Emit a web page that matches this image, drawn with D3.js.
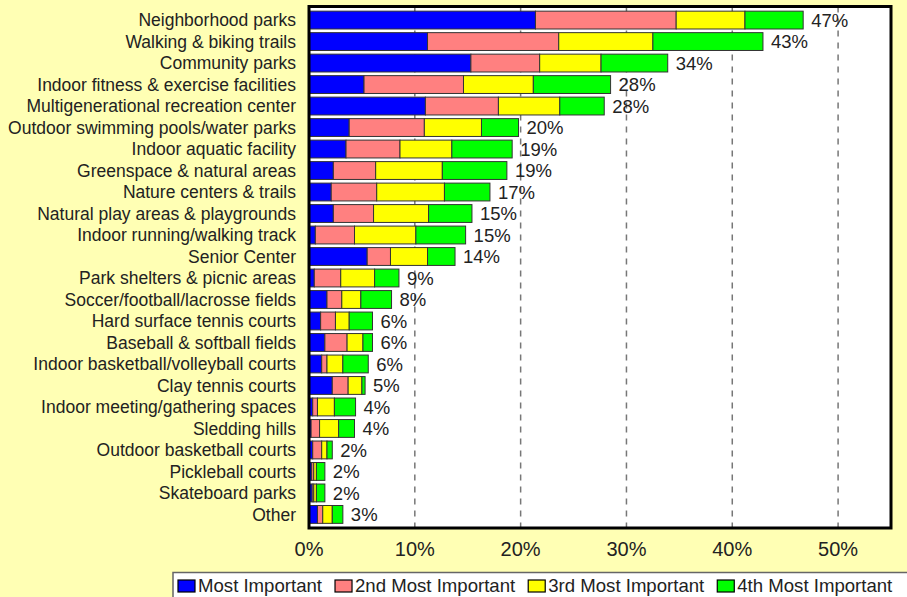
<!DOCTYPE html>
<html>
<head>
<meta charset="utf-8">
<script src="https://cdn.jsdelivr.net/npm/d3@7"></script>
<style>
  html, body { margin: 0; padding: 0; background: #FFFFB4; }
  svg { display: block; font-family: "Liberation Sans", Arial, sans-serif; }
</style>
</head>
<body>
<div class="chart"></div>
<script>
const width = 907;
const height = 597;

// categories, top to bottom
const categories = [
  "Neighborhood parks",
  "Walking & biking trails",
  "Community parks",
  "Indoor fitness & exercise facilities",
  "Multigenerational recreation center",
  "Outdoor swimming pools/water parks",
  "Indoor aquatic facility",
  "Greenspace & natural areas",
  "Nature centers & trails",
  "Natural play areas & playgrounds",
  "Indoor running/walking track",
  "Senior Center",
  "Park shelters & picnic areas",
  "Soccer/football/lacrosse fields",
  "Hard surface tennis courts",
  "Baseball & softball fields",
  "Indoor basketball/volleyball courts",
  "Clay tennis courts",
  "Indoor meeting/gathering spaces",
  "Sledding hills",
  "Outdoor basketball courts",
  "Pickleball courts",
  "Skateboard parks",
  "Other"
];

const seriesNames = ["Most Important", "2nd Most Important", "3rd Most Important", "4th Most Important"];

// percentages
const most   = [21.4, 11.2, 15.3, 5.2, 11.0, 3.8, 3.5, 2.3, 2.1, 2.3, 0.6, 5.5, 0.5, 1.7, 1.1, 1.5, 1.2, 2.2, 0.35, 0.2, 0.35, 0.25, 0.3, 0.8];
const second = [13.3, 12.4, 6.5, 9.4, 6.9, 7.1, 5.1, 4.0, 4.3, 3.8, 3.7, 2.2, 2.5, 1.4, 1.4, 2.1, 0.5, 1.5, 0.45, 0.8, 0.85, 0.2, 0.15, 0.5];
const third  = [6.5, 8.9, 5.8, 6.6, 5.8, 5.4, 4.9, 6.3, 6.4, 5.2, 5.8, 3.5, 3.2, 1.8, 1.3, 1.5, 1.5, 1.3, 1.6, 1.8, 0.5, 0.25, 0.25, 0.9];
const fourth = [5.5, 10.4, 6.3, 7.3, 4.2, 3.5, 5.7, 6.1, 4.3, 4.1, 4.7, 2.6, 2.3, 2.9, 2.2, 0.9, 2.4, 0.3, 2.0, 1.5, 0.5, 0.8, 0.8, 1.0];

const totalLabels = ["47%", "43%", "34%", "28%", "28%", "20%", "19%", "19%", "17%", "15%", "15%", "14%",
  "9%", "8%", "6%", "6%", "6%", "5%", "4%", "4%", "2%", "2%", "2%", "3%"];

const xTicks = [0, 10, 20, 30, 40, 50];
const colors = ["#0000FF", "#FF8080", "#FFFF00", "#00FF00"];

const rows = categories.map((c, i) => ({
  cat: c, s0: most[i], s1: second[i], s2: third[i], s3: fourth[i], label: totalLabels[i]
}));
const keys = ["s0", "s1", "s2", "s3"];
const stacked = d3.stack().keys(keys)(rows);

const plot = { left: 309, right: 891, top: 6.5, bottom: 528 };

const x = d3.scaleLinear().domain([0, 55]).range([plot.left, plot.right]);
const y = d3.scaleBand().domain(categories).range([plot.top + 1, plot.bottom - 1]).padding(0.17);

const svg = d3.select(".chart").append("svg")
  .attr("width", width)
  .attr("height", height);

svg.append("rect").attr("width", width).attr("height", height).attr("fill", "#FFFFB4");

// plot area
svg.append("rect")
  .attr("x", plot.left).attr("y", plot.top)
  .attr("width", plot.right - plot.left).attr("height", plot.bottom - plot.top)
  .attr("fill", "#fff");

// dashed grid
svg.append("g")
  .selectAll("line")
  .data(xTicks.filter(d => d > 0))
  .enter().append("line")
  .attr("x1", d => x(d)).attr("x2", d => x(d))
  .attr("y1", plot.top).attr("y2", plot.bottom)
  .attr("stroke", "#777")
  .attr("stroke-width", 1.5)
  .attr("stroke-dasharray", "6,6");

// bars
svg.append("g")
  .selectAll("g")
  .data(stacked)
  .enter().append("g")
  .attr("fill", (d, i) => colors[i])
  .selectAll("rect")
  .data(d => d)
  .enter().append("rect")
  .attr("x", d => x(d[0]))
  .attr("y", d => y(d.data.cat))
  .attr("width", d => Math.max(0, x(d[1]) - x(d[0])))
  .attr("height", y.bandwidth())
  .attr("stroke", "#333")
  .attr("stroke-width", 1);

// totals
const last = stacked[stacked.length - 1];
svg.append("g")
  .selectAll("text")
  .data(last)
  .enter().append("text")
  .attr("x", d => x(d[1]) + 8)
  .attr("y", d => y(d.data.cat) + y.bandwidth() / 2)
  .attr("dy", "0.37em")
  .attr("font-size", 18.5)
  .attr("fill", "#222")
  .text(d => d.data.label);

// border of plot
svg.append("rect")
  .attr("x", plot.left).attr("y", plot.top)
  .attr("width", plot.right - plot.left).attr("height", plot.bottom - plot.top)
  .attr("fill", "none")
  .attr("stroke", "#000")
  .attr("stroke-width", 3);

// category labels
svg.append("g")
  .selectAll("text")
  .data(categories)
  .enter().append("text")
  .attr("x", 296)
  .attr("y", d => y(d) + y.bandwidth() / 2)
  .attr("dy", "0.36em")
  .attr("text-anchor", "end")
  .attr("font-size", 17.5)
  .attr("fill", "#222")
  .text(d => d);

// x tick labels
svg.append("g")
  .selectAll("text")
  .data(xTicks)
  .enter().append("text")
  .attr("x", d => x(d))
  .attr("y", 556)
  .attr("text-anchor", "middle")
  .attr("font-size", 20)
  .attr("fill", "#222")
  .text(d => d + "%");

// legend
svg.append("rect")
  .attr("x", 173).attr("y", 572.5)
  .attr("width", 760).attr("height", 40)
  .attr("fill", "#fff")
  .attr("stroke", "#666")
  .attr("stroke-width", 1.5);

const legend = svg.append("g");
let lx = 178;
seriesNames.forEach((name, i) => {
  legend.append("rect")
    .attr("x", lx).attr("y", 580)
    .attr("width", 17).attr("height", 12)
    .attr("fill", colors[i])
    .attr("stroke", "#000")
    .attr("stroke-width", 1.2);
  const t = legend.append("text")
    .attr("x", lx + 20).attr("y", 592)
    .attr("font-size", 18.6)
    .attr("fill", "#222")
    .text(name);
  lx += 20 + t.node().getComputedTextLength() + 13;
});
</script>
</body>
</html>
